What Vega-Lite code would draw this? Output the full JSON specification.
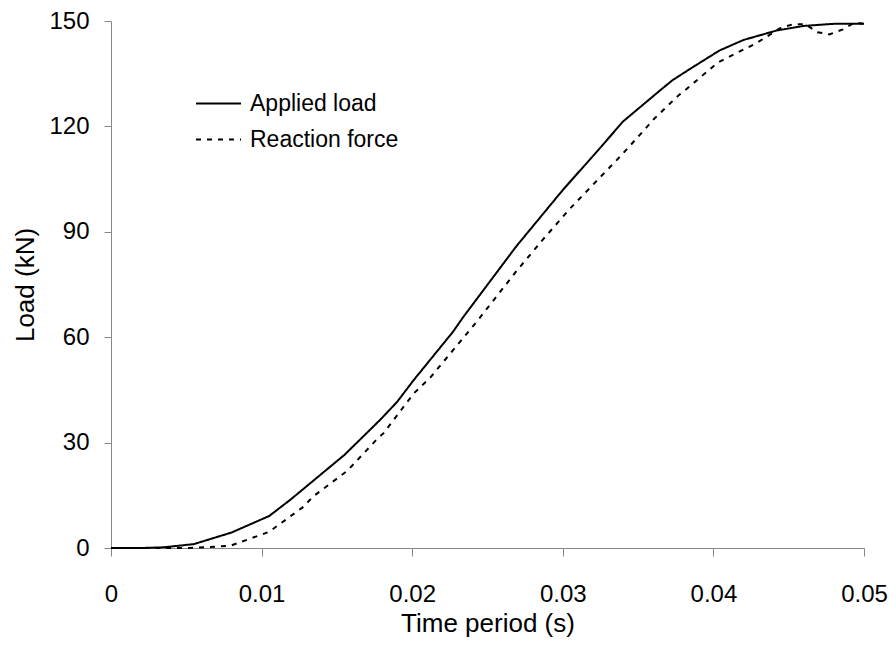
{
  "$schema": "https://vega.github.io/schema/vega-lite/v6.json",
  "width": 753,
  "height": 527,
  "autosize": {"type": "none"},
  "padding": {"left": 111, "top": 21, "right": 32, "bottom": 102},
  "background": "white",
  "config": {
    "view": {"stroke": null},
    "font": "Liberation Sans",
    "axis": {"grid": false, "domainColor": "#868686", "tickColor": "#868686", "labelColor": "black", "titleColor": "black", "titleFontWeight": "normal", "labelFont": "Liberation Sans", "titleFont": "Liberation Sans"}
  },
  "data": {
    "values": [
      {"t": 0, "load": 0, "series": "Applied load"},
      {"t": 0.002, "load": 0, "series": "Applied load"},
      {"t": 0.0035, "load": 0.2, "series": "Applied load"},
      {"t": 0.0055, "load": 1.1, "series": "Applied load"},
      {"t": 0.008, "load": 4.4, "series": "Applied load"},
      {"t": 0.0105, "load": 9.1, "series": "Applied load"},
      {"t": 0.0119, "load": 13.7, "series": "Applied load"},
      {"t": 0.0155, "load": 26.5, "series": "Applied load"},
      {"t": 0.0165, "load": 30.7, "series": "Applied load"},
      {"t": 0.0179, "load": 36.6, "series": "Applied load"},
      {"t": 0.019, "load": 41.6, "series": "Applied load"},
      {"t": 0.0201, "load": 47.8, "series": "Applied load"},
      {"t": 0.0227, "load": 61.5, "series": "Applied load"},
      {"t": 0.0234, "load": 65.8, "series": "Applied load"},
      {"t": 0.0269, "load": 85.8, "series": "Applied load"},
      {"t": 0.03, "load": 101.9, "series": "Applied load"},
      {"t": 0.0324, "load": 113.5, "series": "Applied load"},
      {"t": 0.034, "load": 121.4, "series": "Applied load"},
      {"t": 0.0365, "load": 130.4, "series": "Applied load"},
      {"t": 0.0373, "load": 133.2, "series": "Applied load"},
      {"t": 0.0385, "load": 136.5, "series": "Applied load"},
      {"t": 0.0404, "load": 141.6, "series": "Applied load"},
      {"t": 0.042, "load": 144.6, "series": "Applied load"},
      {"t": 0.0442, "load": 147.3, "series": "Applied load"},
      {"t": 0.046, "load": 148.6, "series": "Applied load"},
      {"t": 0.048, "load": 149.2, "series": "Applied load"},
      {"t": 0.05, "load": 149.2, "series": "Applied load"},
      {"t": 0, "load": 0, "series": "Reaction force"},
      {"t": 0.0052, "load": 0, "series": "Reaction force"},
      {"t": 0.0079, "load": 0.6, "series": "Reaction force"},
      {"t": 0.0105, "load": 4.6, "series": "Reaction force"},
      {"t": 0.0128, "load": 11.8, "series": "Reaction force"},
      {"t": 0.0134, "load": 14.6, "series": "Reaction force"},
      {"t": 0.0157, "load": 22.0, "series": "Reaction force"},
      {"t": 0.0176, "load": 30.7, "series": "Reaction force"},
      {"t": 0.0181, "load": 32.7, "series": "Reaction force"},
      {"t": 0.0201, "load": 44.0, "series": "Reaction force"},
      {"t": 0.0212, "load": 48.5, "series": "Reaction force"},
      {"t": 0.0243, "load": 64.5, "series": "Reaction force"},
      {"t": 0.0269, "load": 78.7, "series": "Reaction force"},
      {"t": 0.0287, "load": 87.9, "series": "Reaction force"},
      {"t": 0.0305, "load": 96.7, "series": "Reaction force"},
      {"t": 0.0338, "load": 111.4, "series": "Reaction force"},
      {"t": 0.0344, "load": 114.2, "series": "Reaction force"},
      {"t": 0.0361, "load": 122.3, "series": "Reaction force"},
      {"t": 0.0377, "load": 128.9, "series": "Reaction force"},
      {"t": 0.0382, "load": 130.6, "series": "Reaction force"},
      {"t": 0.0403, "load": 138.2, "series": "Reaction force"},
      {"t": 0.0429, "load": 143.8, "series": "Reaction force"},
      {"t": 0.0444, "load": 147.9, "series": "Reaction force"},
      {"t": 0.0453, "load": 149.1, "series": "Reaction force"},
      {"t": 0.0461, "load": 149.1, "series": "Reaction force"},
      {"t": 0.0469, "load": 146.8, "series": "Reaction force"},
      {"t": 0.0477, "load": 146.2, "series": "Reaction force"},
      {"t": 0.0486, "load": 147.6, "series": "Reaction force"},
      {"t": 0.0494, "load": 149.6, "series": "Reaction force"},
      {"t": 0.05, "load": 149.2, "series": "Reaction force"}
    ]
  },
  "mark": {"type": "line", "color": "black", "strokeWidth": 2},
  "encoding": {
    "x": {
      "field": "t", "type": "quantitative",
      "scale": {"domain": [0, 0.05], "nice": false},
      "axis": {"values": [0, 0.01, 0.02, 0.03, 0.04, 0.05], "format": "~g", "title": "Time period (s)", "labelFontSize": 24, "titleFontSize": 26, "tickSize": 8, "labelPadding": 26, "titlePadding": 4, "labelFlush": false}
    },
    "y": {
      "field": "load", "type": "quantitative",
      "scale": {"domain": [0, 150], "nice": false},
      "axis": {"values": [0, 30, 60, 90, 120, 150], "title": "Load (kN)", "labelFontSize": 24, "titleFontSize": 26, "tickSize": 7, "labelPadding": 15, "titlePadding": 10, "labelFlush": false}
    },
    "strokeDash": {
      "field": "series", "type": "nominal",
      "scale": {"domain": ["Applied load", "Reaction force"], "range": [[1, 0], [5, 6]]},
      "legend": {"title": null, "orient": "none", "legendX": 84, "legendY": 59, "symbolType": "stroke", "symbolSize": 2025, "symbolStrokeWidth": 2, "symbolStrokeColor": "black", "labelFontSize": 23, "labelFont": "Liberation Sans", "labelColor": "black", "labelOffset": 8, "rowPadding": 0}
    }
  }
}
